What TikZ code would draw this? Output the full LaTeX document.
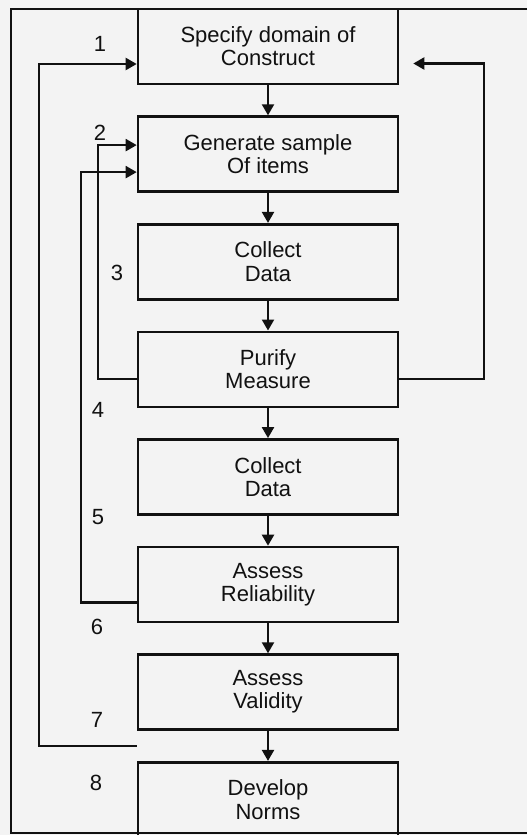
\documentclass[tikz,border=0pt]{standalone}
\usepackage{fontspec}
\setmainfont{Liberation Sans}
\usetikzlibrary{positioning,arrows.meta,calc}
\definecolor{paper}{HTML}{F3F3F3}
\definecolor{ink}{HTML}{111111}
\tikzset{
  font=\fontsize{11pt}{11.6pt}\selectfont,
  >={Triangle[length=5.5pt,width=6pt]},
  flow/.style={->, line width=1.1pt, draw=ink},
  box/.style={draw=ink, line width=1.3pt, align=center, text=ink,
              minimum width=130pt, minimum height=37.5pt, inner sep=2pt},
  num/.style={text=ink, inner sep=0pt},
  frame/.style={draw=ink, line width=1.2pt},
}

\begin{document}
\begin{tikzpicture}[x=0.5pt, y=-0.5pt, node distance=15pt]

% --- page and frame ---------------------------------------------------------------------
\fill[paper] (0,0) rectangle (527,835);
\useasboundingbox (0,0) rectangle (527,835);
\draw[frame] (527,9) -- (11,9) -- (11,833) -- (527,833);

% --- steps ------------------------------------------------------------------------------
\node[box] (specify) at (268,46.5) {Specify domain of\\Construct};
\node[box, below=of specify] (generate) {Generate sample\\Of items};
\node[box, below=of generate] (collectA) {Collect\\Data};
\node[box, below=of collectA] (purify) {Purify\\Measure};
\node[box, below=of purify] (collectB) {Collect\\Data};
\node[box, below=of collectB] (reliab) {Assess\\Reliability};
\node[box, below=of reliab] (validity) {Assess\\Validity};
\node[box, below=of validity] (norms) {Develop\\Norms};

% --- step numbers -----------------------------------------------------------------------
\node[num] (n1) at (100,44) {1};
\node[num] (n2) at (100,133) {2};
\node[num] (n3) at (117,273) {3};
\node[num] (n4) at (98,410) {4};
\node[num] (n5) at (98,517) {5};
\node[num] (n6) at (97,627) {6};
\node[num] (n7) at (97,720) {7};
\node[num] (n8) at (96,783) {8};

% --- main flow --------------------------------------------------------------------------
\foreach \a/\b in {specify/generate, generate/collectA, collectA/purify, purify/collectB,
                   collectB/reliab, reliab/validity, validity/norms}
  \draw[flow] (\a) -- (\b);

% --- feedback loops ---------------------------------------------------------------------
\coordinate (xa) at (39,0);
\coordinate (xb) at (81,0);
\coordinate (xc) at (98,0);
\coordinate (xr) at (484,0);
\coordinate (inS) at ([yshift=-8.75pt]specify.west);
\coordinate (inR) at ([yshift=-8.5pt]specify.east);
\coordinate (inP) at ([yshift=4.5pt]generate.west);
\coordinate (inA) at ([yshift=-9pt]generate.west);
\coordinate (gapV) at ($(validity.south west)!0.5!(norms.north west)$);

\draw[flow, shorten >=7pt] ([yshift=-5pt]purify.east) -| (xr |- inR) -- (inR);
\draw[flow] ([yshift=-5pt]purify.west) -| (xc |- inP) -- (inP);
\draw[flow] ([yshift=-9pt]reliab.west) -| (xb |- inA) -- (inA);
\draw[flow] (gapV) -| (xa |- inS) -- (inS);

\end{tikzpicture}
\end{document}
